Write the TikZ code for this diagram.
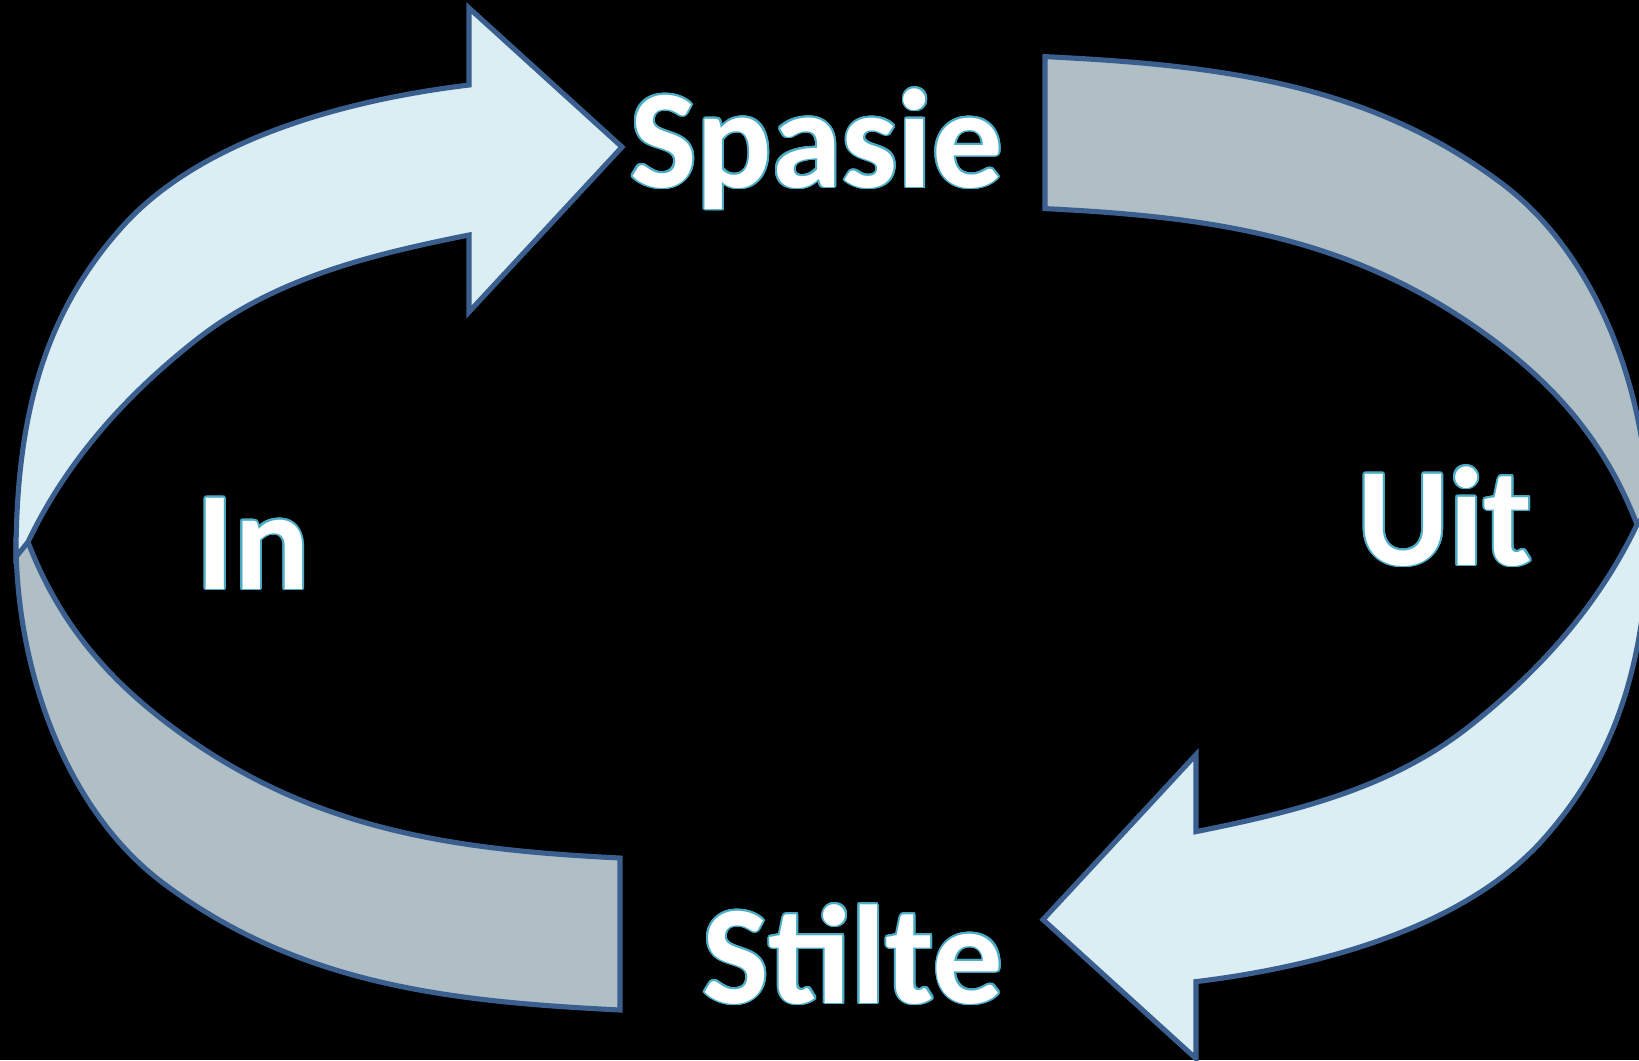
\documentclass[tikz,border=0pt]{standalone}
\usepackage{fontspec}
\setmainfont{Carlito}
\usetikzlibrary{calc}
\definecolor{lightfill}{HTML}{DBEEF4}
\definecolor{grayfill}{HTML}{AFBFC5}
\definecolor{edgeblue}{HTML}{3A5F8F}
\definecolor{textline}{HTML}{4BACC6}
\tikzset{
  band/.style={draw=edgeblue, line width=1.45pt, line join=miter},
  lbl/.style={font=\fontsize{40}{48}\selectfont\bfseries, anchor=base, inner sep=0pt},
}
\begin{document}
\begin{tikzpicture}[x=0.01cm, y=-0.01cm]
\fill[black] (0,0) rectangle (1639,1060);
\useasboundingbox (0,0) rectangle (1639,1060);
\clip (0,0) rectangle (1639,1060);
\foreach \r in {0,180} {
  \begin{scope}[rotate around={\r:(832.5,533.3)}]
    % gray band
    \path[band, fill=grayfill]
      (16,540) .. controls (16,672) and (67,811) .. (163,883)
      .. controls (299,985) and (450,1001.5) .. (620,1010)
      -- (620,858)
      .. controls (450,849.5) and (305.2,829.8) .. (163,720)
      .. controls (100,671) and (56.6,616.4) .. (28,542)
      -- cycle;
    % light arrow
    \path[band, fill=lightfill]
      (16,557) .. controls (16,407) and (48.6,309) .. (122,227)
      .. controls (202,137.6) and (349.8,99.4) .. (469,85)
      -- (469,8) -- (622,147) -- (469,312) -- (469,235)
      .. controls (371,254.6) and (274.5,278.1) .. (196,340)
      .. controls (125.4,395.7) and (66.6,461) .. (28,542)
      -- cycle;
  \end{scope}
}
% labels with outline
\foreach \i in {1,...,16} {
  \node[lbl, text=textline] (spasieo\i) at ($(816.7,187)+(\i*22.5:0.55pt)$) {Spasie};
  \node[lbl, text=textline] (stilteo\i) at ($(853,1003)+(\i*22.5:0.55pt)$) {Stilte};
  \node[lbl, text=textline] (uito\i) at ($(1445,565)+(\i*22.5:0.55pt)$) {Uit};
  \node[lbl, text=textline] (ino\i) at ($(253,589)+(\i*22.5:0.55pt)$) {In};
}
\node[lbl, text=white] (spasie) at (816.7,187) {Spasie};
\node[lbl, text=white] (stilte) at (853,1003) {Stilte};
\node[lbl, text=white] (uit) at (1445,565) {Uit};
\node[lbl, text=white] (in) at (253,589) {In};
\end{tikzpicture}
\end{document}
